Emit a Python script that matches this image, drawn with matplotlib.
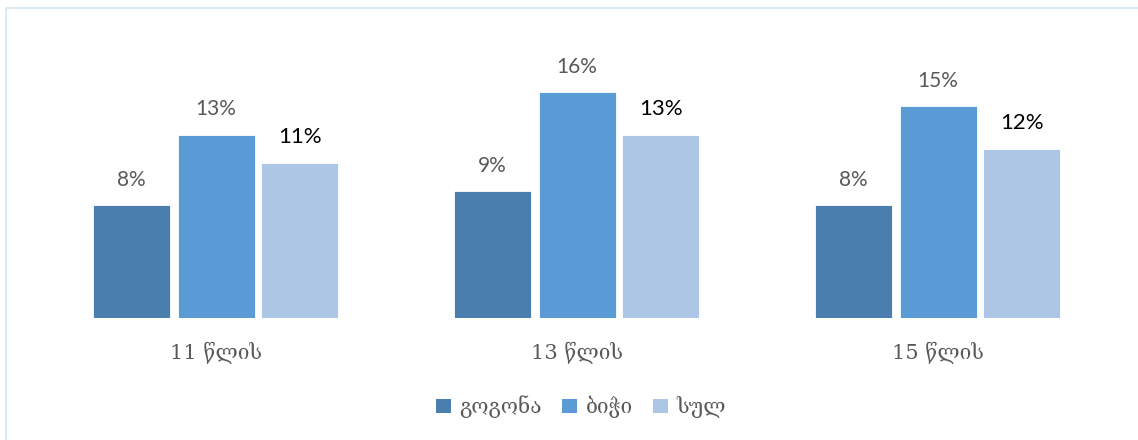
import matplotlib
matplotlib.use("Agg")
import matplotlib.pyplot as plt
from matplotlib.patches import Rectangle, Patch
import numpy as np

categories = ["11 წლის", "13 წლის", "15 წლის"]
series_names = ["გოგონა", "ბიჭი", "სულ"]
girls = [8, 9, 8]
boys = [13, 16, 15]
total = [11, 13, 12]
series = [girls, boys, total]
colors = ["#4A7EAF", "#5B9BD5", "#ADC6E6"]
label_colors = ["#595959", "#595959", "#000000"]
label_sizes = [15, 15, 16]

W, H = 1138, 440
fig = plt.figure(figsize=(W / 100, H / 100), dpi=100)
fig.patch.set_facecolor("white")

# outer chart border
fig.add_artist(Rectangle((5.5 / W, -0.05), 1.2, (H - 8.5) / H + 0.05,
                         transform=fig.transFigure, fill=False,
                         edgecolor="#D6E6F2", linewidth=1.2))

ax_left, ax_right = 35.5, 1118.5
ax_bottom, ax_top = 318, 20
ax = fig.add_axes([ax_left / W, (H - ax_bottom) / H,
                   (ax_right - ax_left) / W, (ax_bottom - ax_top) / H])
ax.set_xlim(-0.5, 2.5)
ax.set_ylim(0, (ax_bottom - ax_top) / 14.1)

x = np.arange(len(categories))
width = 77 / 361
offsets = [-0.234, 0.0, 0.232]
for vals, off, c, lc, ls in zip(series, offsets, colors, label_colors, label_sizes):
    bars = ax.bar(x + off, vals, width=width, color=c, edgecolor="white",
                  linewidth=0.6)
    for b, v in zip(bars, vals):
        ax.text(b.get_x() + b.get_width() / 2, v + 1.1, f"{v}%",
                ha="center", va="bottom", fontsize=ls, color=lc,
                family=["Lato", "DejaVu Sans"])

for s in ax.spines.values():
    s.set_visible(False)
ax.set_yticks([])
ax.set_xticks(x)
ax.set_xticklabels(categories, fontsize=15, color="#595959",
                   family=["DejaVu Serif", "DejaVu Sans"])
ax.tick_params(axis="x", length=0, pad=17)

handles = [Patch(facecolor=c, edgecolor="none") for c in colors]
leg = fig.legend(handles, series_names, loc="center",
                 bbox_to_anchor=(581 / W, (H - 407) / H), ncol=3,
                 frameon=False, handlelength=0.7,
                 handleheight=0.7, handletextpad=0.4, columnspacing=1.0,
                 prop={"family": ["DejaVu Serif", "DejaVu Sans"], "size": 15})
for t in leg.get_texts():
    t.set_color("#595959")

fig.savefig("out.png", dpi=100, facecolor="white")
